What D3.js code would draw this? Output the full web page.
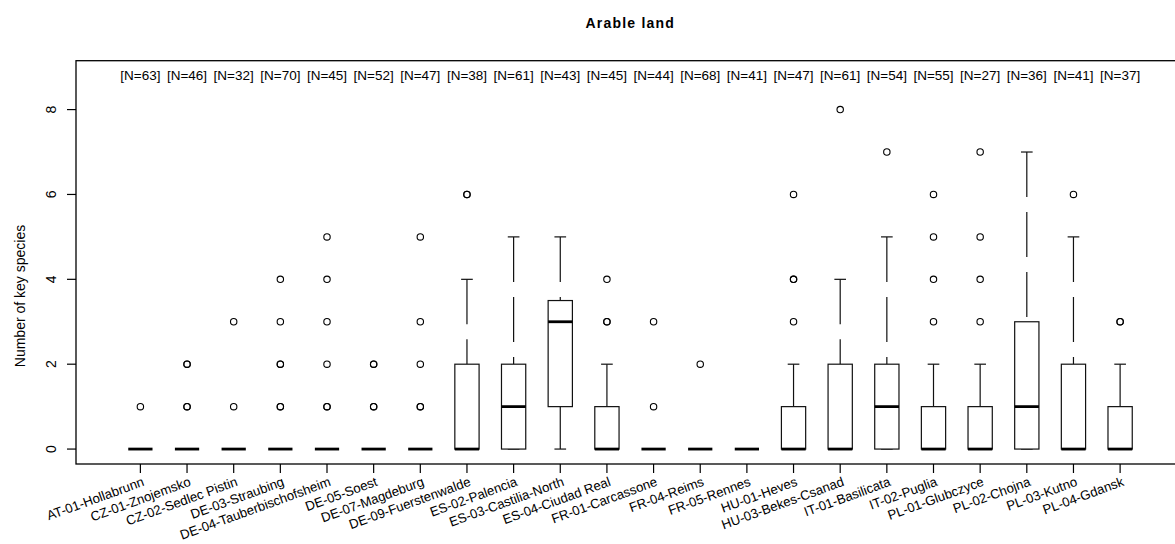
<!DOCTYPE html>
<html>
<head>
<meta charset="utf-8">
<script src="https://cdn.jsdelivr.net/npm/d3@7"></script>
<style>
  body { margin: 0; background: #fff; }
  svg { display: block; font-family: "Liberation Sans", Arial, sans-serif; }
</style>
</head>
<body>
<svg id="chart" width="1175" height="544"></svg>
<script>
// chart size
const width = 1175, height = 544;

// data (per site: five numbers + outliers)
const sites = ["AT-01-Hollabrunn", "CZ-01-Znojemsko", "CZ-02-Sedlec Pistin", "DE-03-Straubing",
    "DE-04-Tauberbischofsheim", "DE-05-Soest", "DE-07-Magdeburg", "DE-09-Fuerstenwalde",
    "ES-02-Palencia", "ES-03-Castilia-North", "ES-04-Ciudad Real", "FR-01-Carcassone",
    "FR-04-Reims", "FR-05-Rennes", "HU-01-Heves", "HU-03-Bekes-Csanad", "IT-01-Basilicata",
    "IT-02-Puglia", "PL-01-Glubczyce", "PL-02-Chojna", "PL-03-Kutno", "PL-04-Gdansk"];
const nObs = [63, 46, 32, 70, 45, 52, 47, 38, 61, 43, 45, 44, 68, 41, 47, 61, 54, 55, 27, 36, 41, 37];
const lowerWhisker = [0, 0, 0, 0, 0, 0, 0, 0, 0, 0, 0, 0, 0, 0, 0, 0, 0, 0, 0, 0, 0, 0];
const q1 = [0, 0, 0, 0, 0, 0, 0, 0, 0, 1, 0, 0, 0, 0, 0, 0, 0, 0, 0, 0, 0, 0];
const medians = [0, 0, 0, 0, 0, 0, 0, 0, 1, 3, 0, 0, 0, 0, 0, 0, 1, 0, 0, 1, 0, 0];
const q3 = [0, 0, 0, 0, 0, 0, 0, 2, 2, 3.5, 1, 0, 0, 0, 1, 2, 2, 1, 1, 3, 2, 1];
const upperWhisker = [0, 0, 0, 0, 0, 0, 0, 4, 5, 5, 2, 0, 0, 0, 2, 4, 5, 2, 2, 7, 5, 2];
// repeated values = overlapping points (they look darker)
const outliers = [[1], [1, 1, 2, 2], [1, 3], [1, 1, 2, 2, 3, 4], [1, 1, 2, 3, 4, 5], [1, 1, 2, 2],
    [1, 1, 2, 3, 5], [6, 6], [], [], [3, 3, 4], [1, 3], [2], [], [3, 4, 4, 6], [8], [7],
    [3, 4, 5, 6], [3, 4, 5, 7], [], [6], [3, 3]];
const yTicks = [0, 2, 4, 6, 8];

const svg = d3.select("#chart");
svg.append("rect").attr("width", width).attr("height", height).attr("fill", "#fff");

// plot region (R style: 4% padding, right side runs off the page)
const n = sites.length;
const x = d3.scaleLinear()
    .domain([0.5 - 0.04 * n, n + 0.5 + 0.04 * n])
    .range([76, 1184.5]);
const y = d3.scaleLinear()
    .domain([-0.352, 9.152])
    .range([464, 60.7]);

const unit = x(1) - x(0);
const boxHalf = unit * 0.26;
const capHalf = unit * 0.125;

const g = svg.append("g");

// boxes
sites.forEach(function(site, i) {
    const cx = x(i + 1);
    // whiskers, dashed, drawn from the whisker end towards the box
    if (upperWhisker[i] > q3[i]) {
        g.append("line")
            .attr("x1", cx).attr("x2", cx)
            .attr("y1", y(upperWhisker[i])).attr("y2", y(q3[i]))
            .attr("stroke", "#111").attr("stroke-width", 1.2)
            .attr("stroke-dasharray", "45,15");
    }
    if (lowerWhisker[i] < q1[i]) {
        g.append("line")
            .attr("x1", cx).attr("x2", cx)
            .attr("y1", y(lowerWhisker[i])).attr("y2", y(q1[i]))
            .attr("stroke", "#111").attr("stroke-width", 1.2)
            .attr("stroke-dasharray", "45,15");
    }
    // staples
    [upperWhisker[i], lowerWhisker[i]].forEach(function(v) {
        g.append("line")
            .attr("x1", cx - capHalf).attr("x2", cx + capHalf)
            .attr("y1", y(v)).attr("y2", y(v))
            .attr("stroke", "#111").attr("stroke-width", 1.2);
    });
    // box
    g.append("rect")
        .attr("x", cx - boxHalf)
        .attr("y", y(q3[i]))
        .attr("width", boxHalf * 2)
        .attr("height", Math.max(0, y(q1[i]) - y(q3[i])))
        .attr("fill", "#fff")
        .attr("stroke", "#111").attr("stroke-width", 1.2);
    // median
    g.append("line")
        .attr("x1", cx - boxHalf).attr("x2", cx + boxHalf)
        .attr("y1", y(medians[i])).attr("y2", y(medians[i]))
        .attr("stroke", "#000").attr("stroke-width", 2.8);
    // outliers
    g.selectAll(null)
        .data(outliers[i])
        .enter()
        .append("circle")
        .attr("cx", cx)
        .attr("cy", d => y(d))
        .attr("r", 3.2)
        .attr("fill", "none")
        .attr("stroke", "#000").attr("stroke-width", 1.1);
    // group size on top
    g.append("text")
        .attr("x", cx)
        .attr("y", y(8.8))
        .attr("dy", "0.35em")
        .attr("text-anchor", "middle")
        .style("font-size", "13.5px")
        .text("[N=" + nObs[i] + "]");
});

// frame
g.append("rect")
    .attr("x", x.range()[0]).attr("y", y.range()[1])
    .attr("width", x.range()[1] - x.range()[0])
    .attr("height", y.range()[0] - y.range()[1])
    .attr("fill", "none").attr("stroke", "#000").attr("stroke-width", 1.3);

// y axis
const yAxis = svg.append("g").attr("transform", `translate(${x.range()[0]},0)`);
yAxis.selectAll("line")
    .data(yTicks).enter().append("line")
    .attr("x1", -9).attr("x2", 0)
    .attr("y1", d => y(d)).attr("y2", d => y(d))
    .attr("stroke", "#000").attr("stroke-width", 1.2);
yAxis.selectAll("text")
    .data(yTicks).enter().append("text")
    .attr("transform", d => `translate(-25,${y(d)}) rotate(-90)`)
    .attr("text-anchor", "middle")
    .attr("dy", "0.35em")
    .style("font-size", "14px")
    .text(d => d);

// x axis
const xAxis = svg.append("g").attr("transform", `translate(0,${y.range()[0]})`);
xAxis.selectAll("line")
    .data(sites).enter().append("line")
    .attr("x1", (d, i) => x(i + 1)).attr("x2", (d, i) => x(i + 1))
    .attr("y1", 0).attr("y2", 9)
    .attr("stroke", "#000").attr("stroke-width", 1.2);
xAxis.selectAll("text")
    .data(sites).enter().append("text")
    .attr("transform", (d, i) => `translate(${x(i + 1) + 3},17) rotate(-20)`)
    .attr("text-anchor", "end")
    .attr("dy", "0.35em")
    .style("font-size", "13.2px")
    .text(d => d);

// axis title and main title
svg.append("text")
    .attr("transform", "translate(20,296) rotate(-90)")
    .attr("text-anchor", "middle")
    .attr("dy", "0.35em")
    .style("font-size", "14px")
    .text("Number of key species");

svg.append("text")
    .attr("x", (x.range()[0] + x.range()[1]) / 2)
    .attr("y", 23)
    .attr("dy", "0.35em")
    .attr("text-anchor", "middle")
    .style("font-size", "14px")
    .style("font-weight", "bold")
    .style("letter-spacing", "1.2px")
    .text("Arable land");
</script>
</body>
</html>
